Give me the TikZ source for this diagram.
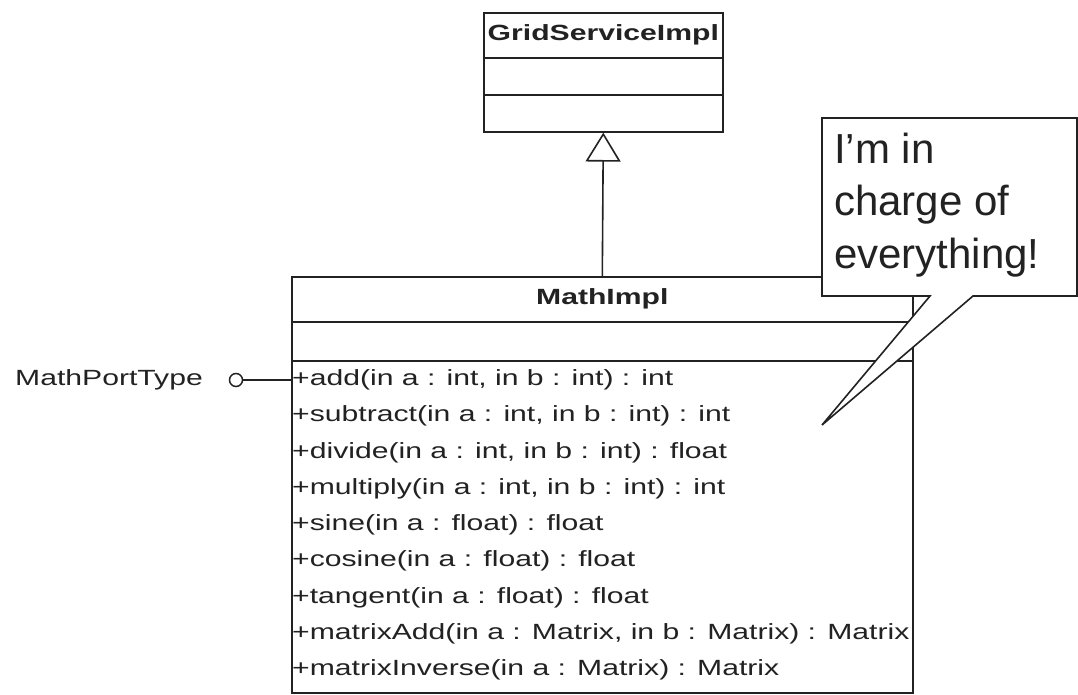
\documentclass[tikz,border=0pt]{standalone}
\usepackage{fontspec}
\setmainfont{Liberation Sans}
\usetikzlibrary{arrows.meta}
\definecolor{ink}{HTML}{222222}
% UML labels are set wide
\newcommand{\widetext}[1]{\scalebox{1.37}[1]{#1}}
\begin{document}
\begin{tikzpicture}[x=1pt,y=-1pt,
  umlbox/.style={draw=ink, line width=1.6pt, fill=white, rectangle, inner sep=0pt, anchor=north west, text=ink},
  umltitle/.style={umlbox, font=\fontsize{22}{26}\selectfont\bfseries},
  optext/.style={anchor=west, inner sep=0pt, font=\fontsize{22}{26}\selectfont, text=ink},
  calltext/.style={anchor=west, inner sep=0pt, align=left, font=\fontsize{42}{52.5}\selectfont, text=ink},
  conn/.style={draw=ink, line width=1.6pt}
]
\useasboundingbox (0,0) rectangle (1078,694);

% GridServiceImpl class
\node[umltitle, minimum width=239pt, minimum height=45pt] (gtitle) at (483,12) {\widetext{GridServiceImpl}};
\node[umlbox, minimum width=239pt, minimum height=37pt] (gattr) at (483,57) {};
\node[umlbox, minimum width=239pt, minimum height=37pt] (gops) at (483,94) {};

% MathImpl class
\node[umltitle, minimum width=621pt, minimum height=45pt] (mtitle) at (291,276) {\widetext{MathImpl}};
\node[umlbox, minimum width=621pt, minimum height=39pt] (mattr) at (291,321) {};
\node[umlbox, minimum width=621pt, minimum height=332pt] (mops) at (291,360) {};

\foreach \i/\y/\t in {
  1/380/{+add(in a : int, in b : int) : int},
  2/416/{+subtract(in a : int, in b : int) : int},
  3/453/{+divide(in a : int, in b : int) : float},
  4/489/{+multiply(in a : int, in b : int) : int},
  5/525/{+sine(in a : float) : float},
  6/561/{+cosine(in a : float) : float},
  7/598/{+tangent(in a : float) : float},
  8/634/{+matrixAdd(in a : Matrix, in b : Matrix) : Matrix},
  9/670/{+matrixInverse(in a : Matrix) : Matrix}}
  \node[optext] (op\i) at (292,\y) {\widetext{\t}};

% generalization
\draw[conn, -{Triangle[open, length=29pt, width=35pt, line width=1.6pt]}] (mtitle.north) -- (gops.south);

% provided interface
\node[draw=ink, circle, line width=1.5pt, minimum size=13pt, inner sep=0pt] (port) at (236,380) {};
\node[optext] (portlabel) at (15,380) {\widetext{MathPortType}};
\draw[conn] (port) -- (port -| mops.west);

% speech bubble
\coordinate (tip) at (822,425);
\draw[ink, line width=1.6pt, fill=white, line join=miter]
  (822,118) -- (1077,118) -- (1077,296) -- (973,296) -- (tip) -- (930,296) -- (822,296) -- cycle;
\node[calltext] (say) at (834,205) {I'm in\\charge of\\everything!};
\end{tikzpicture}
\end{document}
